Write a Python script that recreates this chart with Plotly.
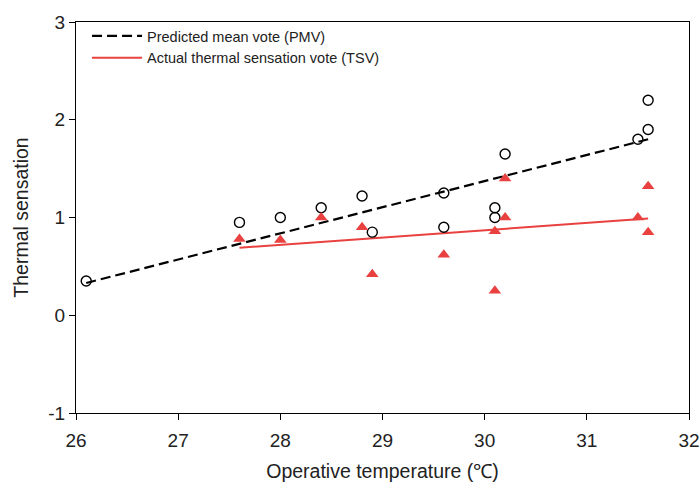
import plotly.graph_objects as go

# PMV observations
pmv_x = [26.1, 27.6, 28.0, 28.4, 28.8, 28.9, 29.6, 29.6, 30.1, 30.1, 30.2, 31.5, 31.6, 31.6]
pmv_y = [0.35, 0.95, 1.0, 1.1, 1.22, 0.85, 1.25, 0.9, 1.1, 1.0, 1.65, 1.8, 1.9, 2.2]

# TSV observations
tsv_x = [27.6, 28.0, 28.4, 28.8, 28.9, 29.6, 30.1, 30.1, 30.2, 30.2, 31.5, 31.6, 31.6]
tsv_y = [0.78, 0.77, 1.0, 0.9, 0.42, 0.62, 0.25, 0.86, 1.0, 1.4, 1.0, 1.32, 0.85]

# Fitted lines (endpoints)
pmv_fit_x = [26.1, 31.6]
pmv_fit_y = [0.33, 1.8]
tsv_fit_x = [27.6, 31.6]
tsv_fit_y = [0.69, 0.99]

x_ticks = [26, 27, 28, 29, 30, 31, 32]
y_ticks = [-1, 0, 1, 2, 3]
y_tick_text = ["-1", "0", "1", "2", "3"]

RED = "#e8413f"

fig = go.Figure()
fig.add_trace(go.Scatter(x=pmv_fit_x, y=pmv_fit_y, mode="lines",
                         name="Predicted mean vote (PMV)",
                         line=dict(color="black", width=2.2, dash="10px,5px")))
fig.add_trace(go.Scatter(x=tsv_fit_x, y=tsv_fit_y, mode="lines",
                         name="Actual thermal sensation vote (TSV)",
                         line=dict(color=RED, width=2)))
fig.add_trace(go.Scatter(x=pmv_x, y=pmv_y, mode="markers", showlegend=False,
                         marker=dict(symbol="circle-open", size=10,
                                     line=dict(color="black", width=1.4), color="black")))
fig.add_trace(go.Scatter(x=tsv_x, y=tsv_y, mode="markers", showlegend=False,
                         marker=dict(symbol="triangle-up", size=11, color=RED,
                                     line=dict(width=0))))

axis_common = dict(showgrid=False, zeroline=False, showline=True, linecolor="black",
                   linewidth=1.2, mirror=True, ticks="outside", ticklen=6,
                   tickcolor="black", tickfont=dict(size=19, color="#222"),
                   automargin=False)

fig.update_xaxes(range=[26, 32], tickvals=x_ticks, ticklabelstandoff=4,
                 ticklabeloverflow="allow",
                 title=dict(text="Operative temperature (℃)", font=dict(size=19.5, color="#222"), standoff=14),
                 **axis_common)
fig.update_yaxes(range=[-1, 3], tickvals=y_ticks, ticktext=y_tick_text,
                 title=dict(text="Thermal sensation", font=dict(size=19.5, color="#222"), standoff=14),
                 **axis_common)

fig.update_layout(
    width=700, height=484,
    margin=dict(l=76, r=11, t=22, b=71),
    paper_bgcolor="white", plot_bgcolor="white",
    font=dict(family="Liberation Sans, Arial, sans-serif", color="#222"),
    legend=dict(x=0.018, y=1.005, xanchor="left", yanchor="top",
                bgcolor="rgba(0,0,0,0)", font=dict(size=14.5),
                tracegroupgap=0, itemwidth=50),
    showlegend=True,
)

fig.write_html("out.html")
